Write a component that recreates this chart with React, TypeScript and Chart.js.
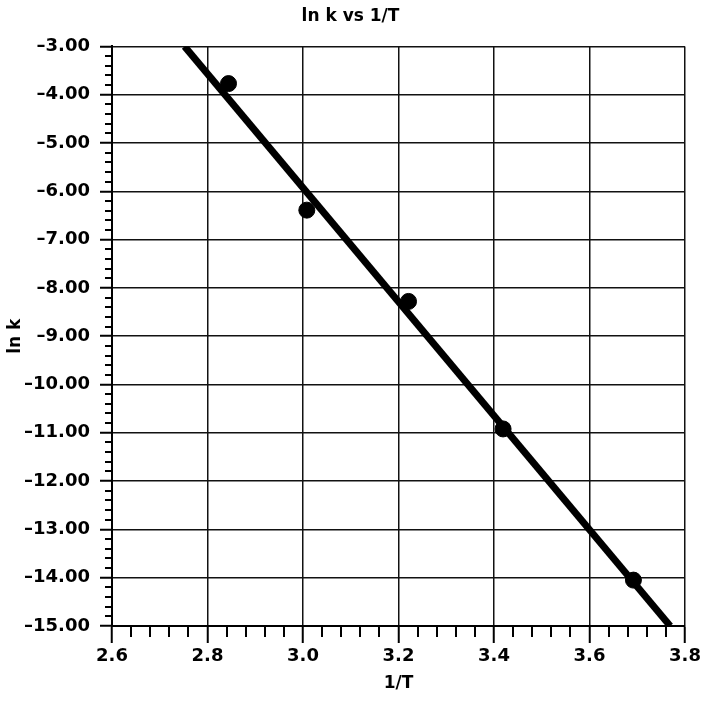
import React, { useEffect, useRef } from "react";
import { Chart, registerables } from "chart.js";

Chart.register(...registerables);

// Measured points (1/T, ln k)
const invT = [2.844, 3.008, 3.221, 3.419, 3.692];
const lnK = [-3.77, -6.39, -8.28, -10.92, -14.05];

// Fitted line end points
const fitX = [2.752, 3.769];
const fitY = [-3.0, -15.0];

const X_MIN = 2.6;
const X_MAX = 3.8;
const X_STEP = 0.2;
const X_MINOR = 0.04;
const Y_MIN = -15;
const Y_MAX = -3;
const Y_STEP = 1;
const Y_MINOR = 0.2;

const TITLE = "ln k vs 1/T";
const X_TITLE = "1/T";
const Y_TITLE = "ln k";

const FONT = "'DejaVu Sans', 'Liberation Sans', Arial, sans-serif";

const minorTicks = {
  id: "minorTicks",
  afterDraw(chart: any) {
    const ctx = chart.ctx;
    const xs = chart.scales.x;
    const ys = chart.scales.y;
    const area = chart.chartArea;
    ctx.save();
    ctx.strokeStyle = "#000";
    ctx.lineWidth = 2;
    ctx.beginPath();
    const nx = Math.round((X_MAX - X_MIN) / X_MINOR);
    for (let i = 0; i <= nx; i++) {
      if (i % Math.round(X_STEP / X_MINOR) === 0) continue;
      const v = X_MIN + i * X_MINOR;
      const px = Math.round(xs.getPixelForValue(v));
      ctx.moveTo(px, area.bottom);
      ctx.lineTo(px, area.bottom + 11);
    }
    const ny = Math.round((Y_MAX - Y_MIN) / Y_MINOR);
    for (let i = 0; i <= ny; i++) {
      if (i % Math.round(Y_STEP / Y_MINOR) === 0) continue;
      const v = Y_MIN + i * Y_MINOR;
      const py = Math.round(ys.getPixelForValue(v));
      ctx.moveTo(area.left - 7, py);
      ctx.lineTo(area.left, py);
    }
    ctx.stroke();
    ctx.restore();
  },
};

export default function App() {
  const ref = useRef<HTMLCanvasElement | null>(null);

  useEffect(() => {
    if (!ref.current) return;
    const chart = new Chart(ref.current, {
      type: "scatter",
      data: {
        datasets: [
          {
            type: "line",
            data: fitX.map((x, i) => ({ x, y: fitY[i] })),
            borderColor: "#000",
            borderWidth: 7,
            pointRadius: 0,
            showLine: true,
            fill: false,
            order: 2,
          } as any,
          {
            data: invT.map((x, i) => ({ x, y: lnK[i] })),
            backgroundColor: "#000",
            borderColor: "#000",
            pointRadius: 8,
            pointHoverRadius: 8,
            order: 1,
          },
        ],
      },
      options: {
        responsive: false,
        animation: false,
        devicePixelRatio: 1,
        layout: { padding: { right: 0, left: 0, top: 0, bottom: 0 } },
        plugins: {
          legend: { display: false },
          tooltip: { enabled: false },
          title: {
            display: true,
            text: TITLE,
            color: "#000",
            font: { family: FONT, size: 17, weight: "bold" },
            padding: { top: 6, bottom: 20 },
          },
        },
        scales: {
          x: {
            type: "linear",
            min: X_MIN,
            max: X_MAX,
            afterFit: (s: any) => {
              s.height = 82;
              s.paddingRight = 16;
            },
            ticks: {
              stepSize: X_STEP,
              color: "#000",
              padding: 3,
              font: { family: FONT, size: 18, weight: "bold" },
              callback: (v: any) => Number(v).toFixed(1),
            },
            grid: {
              color: "#111",
              lineWidth: 1.5,
              tickLength: 17,
              tickColor: "#000",
              tickWidth: 2,
            },
            border: { color: "#000", width: 2 },
            title: {
              display: true,
              text: X_TITLE,
              color: "#000",
              font: { family: FONT, size: 17, weight: "bold" },
              padding: { top: 0, bottom: 14 },
            },
          },
          y: {
            type: "linear",
            min: Y_MIN,
            max: Y_MAX,
            afterFit: (s: any) => {
              s.width = 112;
            },
            ticks: {
              stepSize: Y_STEP,
              color: "#000",
              padding: 10,
              font: { family: FONT, size: 18, weight: "bold" },
              callback: (v: any) => {
                const n = Number(v);
                return (n < 0 ? "\u2013" : "") + Math.abs(n).toFixed(2);
              },
            },
            grid: {
              color: "#111",
              lineWidth: 1.5,
              tickLength: 12,
              tickColor: "#000",
              tickWidth: 2,
            },
            border: { color: "#000", width: 2 },
            title: {
              display: true,
              text: Y_TITLE,
              color: "#000",
              font: { family: FONT, size: 17, weight: "bold" },
              padding: { top: 5, bottom: 0 },
            },
          },
        },
      },
      plugins: [minorTicks],
    });
    return () => chart.destroy();
  }, []);

  return (
    <div style={{ position: "absolute", left: 0, top: 0, width: 701, height: 708, background: "#fff" }}>
      <canvas ref={ref} width={701} height={708} style={{ display: "block" }} />
    </div>
  );
}
